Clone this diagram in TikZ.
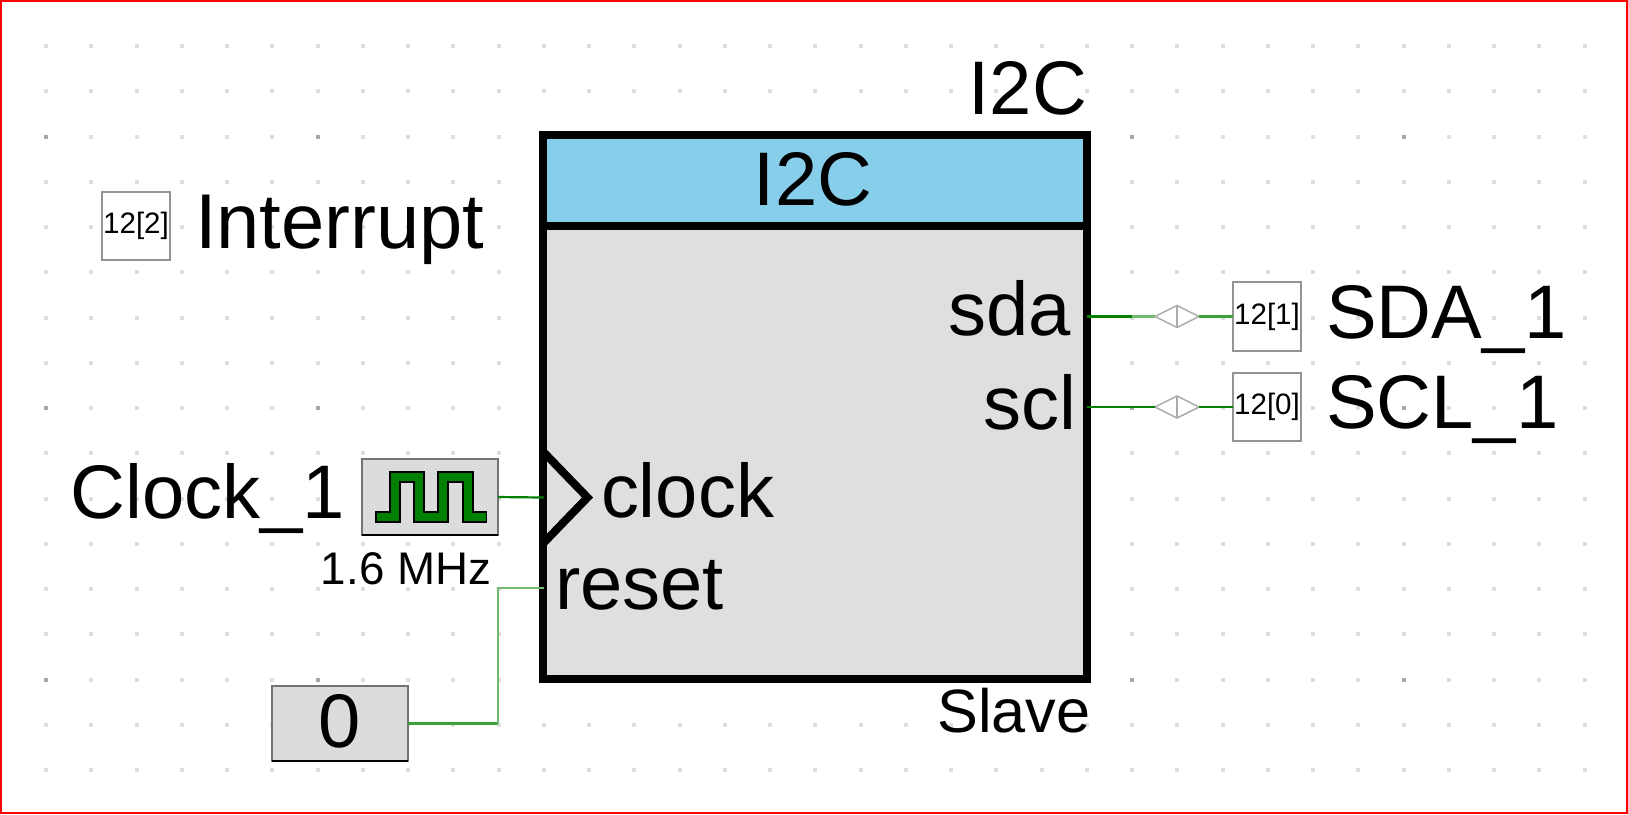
\documentclass[tikz,border=0pt]{standalone}
\usepackage{fontspec}
\setmainfont{Liberation Sans}
\usetikzlibrary{shapes.geometric}
\definecolor{wiregreen}{HTML}{008000}
\definecolor{wiremid}{HTML}{3DA03D}
\definecolor{wirefaint}{HTML}{70BB70}
\definecolor{clockgreen}{HTML}{008000}
\definecolor{headblue}{HTML}{87CEEB}
\definecolor{bodygray}{HTML}{DFDFDF}
\definecolor{srcgray}{HTML}{DCDCDC}
\newcommand{\bigtxt}{\fontsize{21.6pt}{24pt}\selectfont}
\newcommand{\inttxt}{\fontsize{22.1pt}{24pt}\selectfont}
\newcommand{\slavetxt}{\fontsize{17.4pt}{20pt}\selectfont}
\newcommand{\freqtxt}{\fontsize{13pt}{15pt}\selectfont}
\newcommand{\pintxt}{\fontsize{8.4pt}{10pt}\selectfont}
\tikzset{
    griddot/.style={fill=black!13},
    griddotmajor/.style={fill=black!35},
    wire/.style={wiregreen,line width=0.022cm},
    wirem/.style={wiremid,line width=0.022cm},
    wiref/.style={wirefaint,line width=0.022cm},
    label/.style={inner sep=0,outer sep=0,font=\bigtxt},
    pinbox/.style={draw=black!42,fill=white,line width=0.02cm,minimum width=0.68cm,minimum height=0.68cm,inner sep=0,outer sep=0,font=\pintxt},
    bidir/.style={diamond,draw=black!33,fill=white,line width=0.015cm,minimum width=0.44cm,minimum height=0.22cm,inner sep=0,outer sep=0,aspect=2},
    srcbox/.style={draw=black!55,fill=srcgray,line width=0.02cm,inner sep=0,outer sep=0}
}
\begin{document}
\begin{tikzpicture}[x=0.01cm,y=-0.01cm]
            \useasboundingbox (0,0) rectangle (1628,814);
            \foreach \i in {0,...,34}
                \foreach \j in {0,...,16} {
                    \pgfmathparse{(mod(\i,6)==0 && mod(\j,6)==2) ? "griddotmajor" : "griddot"}
                    \fill[style=\pgfmathresult] ({46+45.25*\i-2},{46+45.25*\j-2}) rectangle +(4,4);
                }
            \draw[red,line width=0.02cm] (1,1) rectangle (1627,813);

            \node[draw=black,fill=bodygray,line width=0.08cm,minimum width=5.44cm,minimum height=5.44cm,inner sep=0,outer sep=0] (slave) at (815,407) {};
            \node[draw=black,fill=headblue,line width=0.08cm,minimum width=5.44cm,minimum height=0.91cm,inner sep=0,outer sep=0] (head) at (815,180.5) {};
            \node[label,anchor=base] (headname) at (813,205.5) {I2C};
            \node[label,anchor=base east] (instname) at (1087,114) {I2C};
            \node[label,anchor=base east,font=\slavetxt] (mode) at (1090.5,732) {Slave};

            \coordinate (clkin) at (543.5,497.5);
            \coordinate (clktop) at (543.5,452);
            \coordinate (clktip) at (587.5,497.5);
            \coordinate (clkbot) at (543.5,543);
            \draw[line width=0.08cm,miter limit=10] (clktop)--(clktip)--(clkbot);
            \node[label,anchor=base east] (sdapin) at (1071,335) {sda};
            \node[label,anchor=base east] (sclpin) at (1076,429) {scl};
            \node[label,anchor=base west] (clockpin) at (601,517) {clock};
            \node[label,anchor=base west] (resetpin) at (555,609) {reset};

            \node[pinbox] (pinint) at (136,226) {12[2]};
            \node[label,anchor=base west,font=\inttxt] (intname) at (195,248) {Interrupt};
            \node[pinbox] (pinsda) at (1267,316.5) {12[1]};
            \node[label,anchor=base west] (sdaname) at (1326,338) {SDA\_1};
            \node[pinbox] (pinscl) at (1267,407) {12[0]};
            \node[label,anchor=base west] (sclname) at (1326,428) {SCL\_1};

            \node[bidir] (diasda) at (1177,316.5) {};
            \node[bidir] (diascl) at (1177,407) {};
            \draw[black!33,line width=0.015cm] (diasda.north)--(diasda.south);
            \draw[black!33,line width=0.015cm] (diascl.north)--(diascl.south);
            \coordinate (sdafade) at (1132,316.5);
            \draw[wire] (slave.east |- sdafade)--(sdafade);
            \draw[wiref] (sdafade)--(diasda.west);
            \draw[wirem] (diasda.east)--(pinsda.west);
            \draw[wire] (slave.east |- diascl.west)--(diascl.west);
            \draw[wire] (diascl.east)--(pinscl.west);

            \node[srcbox,minimum width=1.36cm,minimum height=0.76cm] (clk) at (430,497) {};
            \draw[black,line width=0.02cm] (clk.south west)--(clk.south east);
            \draw[black,line width=0.115cm,miter limit=10] (375,517)--(395,517)--(395,477)--(419,477)--(419,517)--(443,517)--(443,477)--(468,477)--(468,517)--(487,517);
            \draw[clockgreen,line width=0.08cm,miter limit=10] (376.5,517)--(395,517)--(395,477)--(419,477)--(419,517)--(443,517)--(443,477)--(468,477)--(468,517)--(485.5,517);
            \node[label,anchor=base east] (clkname) at (345,518.5) {Clock\_1};
            \node[label,anchor=base,font=\freqtxt] (clkfreq) at (406,584) {1.6 MHz};
            \draw[wire] (clk.east)--(clkin);

            \node[srcbox,minimum width=1.36cm,minimum height=0.75cm] (const) at (340,723.5) {};
            \draw[black,line width=0.02cm] (const.south west)--(const.south east);
            \node[label,anchor=base] (constval) at (339.5,747) {0};
            \coordinate (rstin) at (543.5,588);
            \coordinate (rstbend) at (498,588);
            \draw[wirem] (const.east)--(const.east -| rstbend);
            \draw[wiref] (const.east -| rstbend)--(rstbend)--(rstin);
        \end{tikzpicture}
\end{document}
